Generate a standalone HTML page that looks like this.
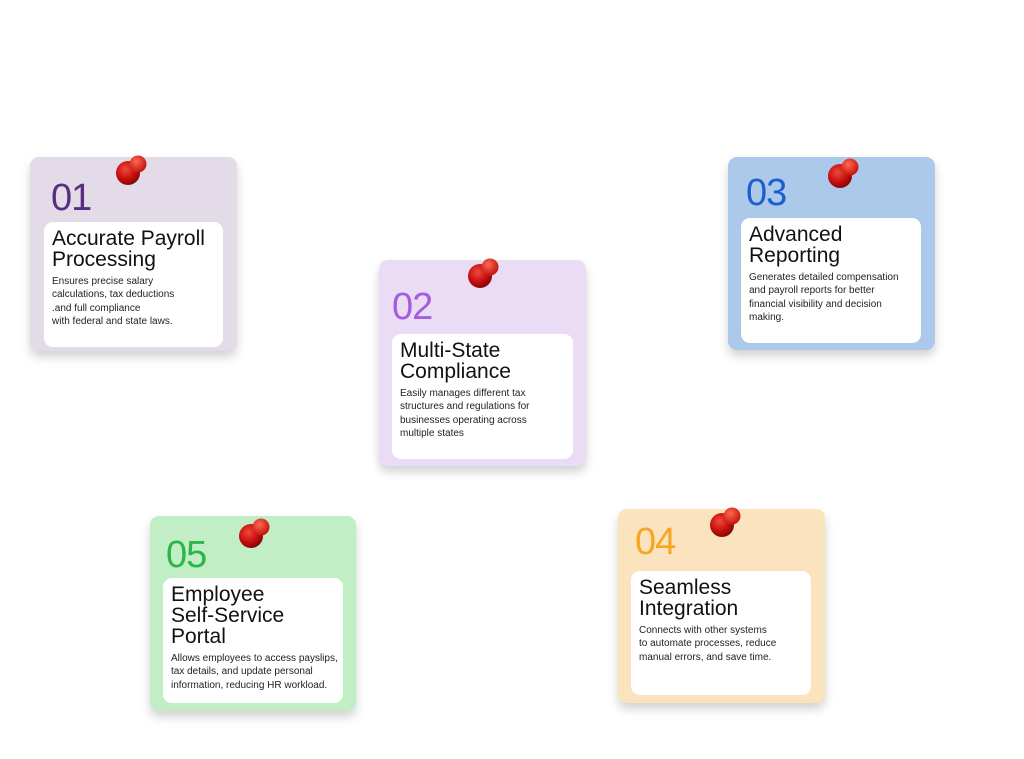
<!DOCTYPE html>
<html><head><meta charset="utf-8"><style>
html,body{margin:0;padding:0;background:#fff;width:1024px;height:759px;overflow:hidden;position:relative;font-family:"Liberation Sans",sans-serif;}
.card{position:absolute;border-radius:9px;box-shadow:0 6px 10px rgba(0,0,0,0.18);}
.num{position:absolute;font-size:38px;line-height:38px;font-weight:normal;letter-spacing:-1px;}
.inner{position:absolute;background:#fff;border-radius:9px;box-sizing:border-box;padding:6px 8px 0 8px;}
.t{font-size:21px;line-height:21px;color:#111;margin-bottom:5px;white-space:nowrap;}
.b{font-size:10px;line-height:13.3px;color:#222;white-space:nowrap;}
.pin{position:absolute;width:40px;height:40px;}
</style></head><body>

<svg width="0" height="0" style="position:absolute"><defs>
<radialGradient id="g1" cx="40%" cy="35%" r="65%"><stop offset="0" stop-color="#f04a3a"/><stop offset="0.6" stop-color="#c81010"/><stop offset="1" stop-color="#8a0606"/></radialGradient>
<radialGradient id="g2" cx="40%" cy="35%" r="65%"><stop offset="0" stop-color="#ff6a50"/><stop offset="1" stop-color="#c41410"/></radialGradient>
</defs></svg>

<!-- 01 -->
<div class="card" style="left:30px;top:157px;width:207px;height:194px;background:#e3dbe7;">
  <div class="num" style="left:21px;top:22px;color:#5a2d82;">01</div>
  <div class="inner" style="left:14px;top:65px;width:179px;height:125px;">
    <div class="t">Accurate Payroll<br>Processing</div>
    <div class="b">Ensures precise salary<br>calculations, tax deductions<br>.and full compliance<br>with federal and state laws.</div>
  </div>
</div>
<svg class="pin" style="left:114px;top:152px" viewBox="0 0 40 40"><circle cx="14" cy="21" r="12" fill="url(#g1)"/><circle cx="24" cy="12" r="8.5" fill="url(#g2)"/></svg>

<!-- 02 -->
<div class="card" style="left:379px;top:260px;width:207px;height:206px;background:#e9dcf4;">
  <div class="num" style="left:13px;top:28px;color:#a45de0;">02</div>
  <div class="inner" style="left:13px;top:74px;width:181px;height:125px;">
    <div class="t">Multi-State<br>Compliance</div>
    <div class="b">Easily manages different tax<br>structures and regulations for<br>businesses operating across<br>multiple states</div>
  </div>
</div>
<svg class="pin" style="left:466px;top:255px" viewBox="0 0 40 40"><circle cx="14" cy="21" r="12" fill="url(#g1)"/><circle cx="24" cy="12" r="8.5" fill="url(#g2)"/></svg>

<!-- 03 -->
<div class="card" style="left:728px;top:157px;width:207px;height:193px;background:#adc9ea;">
  <div class="num" style="left:18px;top:17px;color:#1e5fcf;">03</div>
  <div class="inner" style="left:13px;top:61px;width:180px;height:125px;">
    <div class="t">Advanced<br>Reporting</div>
    <div class="b">Generates detailed compensation<br>and payroll reports for better<br>financial visibility and decision<br>making.</div>
  </div>
</div>
<svg class="pin" style="left:826px;top:155px" viewBox="0 0 40 40"><circle cx="14" cy="21" r="12" fill="url(#g1)"/><circle cx="24" cy="12" r="8.5" fill="url(#g2)"/></svg>

<!-- 04 -->
<div class="card" style="left:618px;top:509px;width:207px;height:194px;background:#fbe3be;">
  <div class="num" style="left:17px;top:14px;color:#f5a623;">04</div>
  <div class="inner" style="left:13px;top:62px;width:180px;height:124px;">
    <div class="t">Seamless<br>Integration</div>
    <div class="b">Connects with other systems<br>to automate processes, reduce<br>manual errors, and save time.</div>
  </div>
</div>
<svg class="pin" style="left:708px;top:504px" viewBox="0 0 40 40"><circle cx="14" cy="21" r="12" fill="url(#g1)"/><circle cx="24" cy="12" r="8.5" fill="url(#g2)"/></svg>

<!-- 05 -->
<div class="card" style="left:150px;top:516px;width:206px;height:195px;background:#c2eec6;">
  <div class="num" style="left:16px;top:20px;color:#2bb54a;">05</div>
  <div class="inner" style="left:13px;top:62px;width:180px;height:125px;">
    <div class="t">Employee<br>Self-Service<br>Portal</div>
    <div class="b">Allows employees to access payslips,<br>tax details, and update personal<br>information, reducing HR workload.</div>
  </div>
</div>
<svg class="pin" style="left:237px;top:515px" viewBox="0 0 40 40"><circle cx="14" cy="21" r="12" fill="url(#g1)"/><circle cx="24" cy="12" r="8.5" fill="url(#g2)"/></svg>

</body></html>
